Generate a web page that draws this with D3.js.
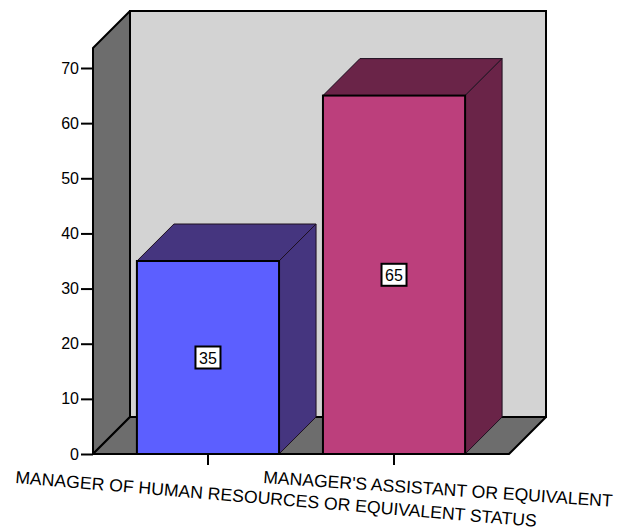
<!DOCTYPE html>
<html>
<head>
<meta charset="utf-8">
<script src="https://cdn.jsdelivr.net/npm/d3@7/dist/d3.min.js"></script>
<style>
  html, body { margin: 0; padding: 0; background: #ffffff; }
  svg { display: block; }
  text { font-family: "Liberation Sans", Arial, sans-serif; fill: #000; }
</style>
</head>
<body>
<svg id="chart" width="618" height="529"></svg>
<script>
// Data
const categories = [
  "MANAGER OF HUMAN RESOURCES OR EQUIVALENT STATUS",
  "MANAGER'S ASSISTANT OR EQUIVALENT"
];
const values = [35, 65];
const yTicks = [0, 10, 20, 30, 40, 50, 60, 70];

// Colours: front face, top/side face
const frontColors = ["#5c5fff", "#bc3f7c"];
const shadeColors = ["#45357f", "#6a2448"];

// Layout
const W = 618, H = 529;
const plot = { left: 93, right: 509, bottom: 454 };
const depth = 37;          // 3D offset (dx = depth, dy = -depth)
const wallTop = 48;        // top of the front edge of the side wall

const svg = d3.select("#chart");

const x = d3.scaleBand()
  .domain(categories)
  .range([plot.left, plot.right])
  .paddingInner(0.236)
  .paddingOuter(0.236);

const y = d3.scaleLinear()
  .domain([0, 70])
  .range([plot.bottom, 68]);

const pts = a => a.map(p => p.join(",")).join(" ");

// Back wall
svg.append("rect")
  .attr("x", plot.left + depth)
  .attr("y", wallTop - depth)
  .attr("width", plot.right - plot.left)
  .attr("height", plot.bottom - wallTop)
  .attr("fill", "#d3d3d3")
  .attr("stroke", "#000")
  .attr("stroke-width", 2);

// Side wall
svg.append("polygon")
  .attr("points", pts([
    [plot.left, wallTop],
    [plot.left + depth, wallTop - depth],
    [plot.left + depth, plot.bottom - depth],
    [plot.left, plot.bottom]
  ]))
  .attr("fill", "#6d6d6d")
  .attr("stroke", "#000")
  .attr("stroke-width", 2)
  .attr("stroke-linejoin", "round");

// Floor
svg.append("polygon")
  .attr("points", pts([
    [plot.left, plot.bottom],
    [plot.left + depth, plot.bottom - depth],
    [plot.right + depth, plot.bottom - depth],
    [plot.right, plot.bottom]
  ]))
  .attr("fill", "#6d6d6d")
  .attr("stroke", "#000")
  .attr("stroke-width", 2)
  .attr("stroke-linejoin", "round");

// Bars
const bars = svg.append("g").selectAll("g")
  .data(categories.map((c, i) => ({ c, v: values[i], i })))
  .join("g");

bars.each(function(d) {
  const g = d3.select(this);
  const x0 = x(d.c), x1 = x(d.c) + x.bandwidth();
  const yt = y(d.v), yb = y(0);

  // top face
  g.append("polygon")
    .attr("points", pts([[x0, yt], [x0 + depth, yt - depth], [x1 + depth, yt - depth], [x1, yt]]))
    .attr("fill", shadeColors[d.i])
    .attr("stroke", "#1e1020")
    .attr("stroke-width", 1);

  // side face
  g.append("polygon")
    .attr("points", pts([[x1, yt], [x1 + depth, yt - depth], [x1 + depth, yb - depth], [x1, yb]]))
    .attr("fill", shadeColors[d.i])
    .attr("stroke", "#1e1020")
    .attr("stroke-width", 1);

  // front face
  g.append("rect")
    .attr("x", x0)
    .attr("y", yt)
    .attr("width", x1 - x0)
    .attr("height", yb - yt)
    .attr("fill", frontColors[d.i])
    .attr("stroke", "#000")
    .attr("stroke-width", 2);

  // value label
  const cx = x0 + x.bandwidth() / 2;
  const cy = (yt + yb) / 2;
  g.append("rect")
    .attr("x", cx - 12.5)
    .attr("y", cy - 11)
    .attr("width", 25)
    .attr("height", 22)
    .attr("fill", "#fff")
    .attr("stroke", "#000")
    .attr("stroke-width", 2);
  g.append("text")
    .attr("x", cx)
    .attr("y", cy + 6)
    .attr("text-anchor", "middle")
    .attr("font-size", 16)
    .text(d.v);
});

// Y axis
const yAxis = svg.append("g")
  .attr("transform", `translate(${plot.left},0)`)
  .call(d3.axisLeft(y).tickValues(yTicks).tickSize(12).tickSizeOuter(0).tickPadding(2));
yAxis.select(".domain").remove();
yAxis.selectAll(".tick line").attr("stroke", "#000").attr("stroke-width", 2);
yAxis.selectAll(".tick text")
  .attr("font-size", 16)
  .attr("font-family", "Liberation Sans, Arial, sans-serif")
  .attr("fill", "#000");

// Category ticks
svg.append("g").selectAll("line")
  .data(categories)
  .join("line")
  .attr("x1", d => x(d) + x.bandwidth() / 2)
  .attr("x2", d => x(d) + x.bandwidth() / 2)
  .attr("y1", plot.bottom)
  .attr("y2", plot.bottom + 11)
  .attr("stroke", "#000")
  .attr("stroke-width", 2);

// Category labels (slanted)
const labelPlacement = [
  { dx: -193, y: 483, angle: 4.8, len: 523 },
  { dx: -131, y: 483, angle: 3.9, len: 350 }
];
svg.append("g").selectAll("text")
  .data(categories)
  .join("text")
  .each(function(d, i) {
    const p = labelPlacement[i];
    const sx = x(d) + x.bandwidth() / 2 + p.dx;
    d3.select(this)
      .attr("x", sx)
      .attr("y", p.y)
      .attr("font-size", 17.5)
      .attr("textLength", p.len)
      .attr("lengthAdjust", "spacingAndGlyphs")
      .attr("transform", `rotate(${p.angle},${sx},${p.y})`)
      .text(d);
  });
</script>
</body>
</html>
